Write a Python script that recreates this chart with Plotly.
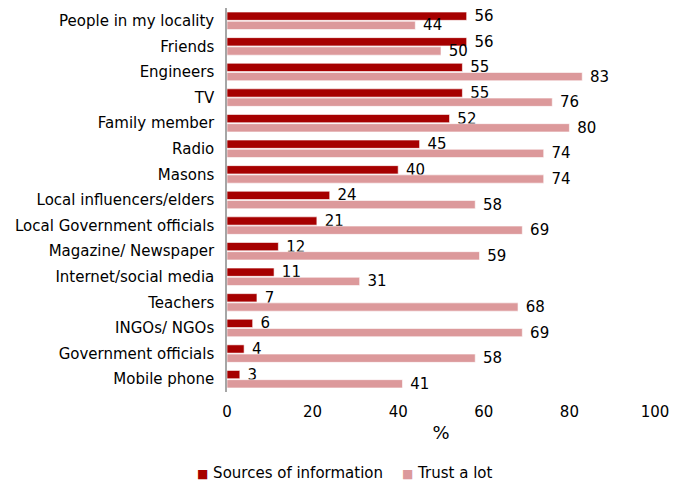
import plotly.graph_objects as go

categories = [
    "People in my locality", "Friends", "Engineers", "TV", "Family member",
    "Radio", "Masons", "Local influencers/elders", "Local Government officials",
    "Magazine/ Newspaper", "Internet/social media", "Teachers", "INGOs/ NGOs",
    "Government officials", "Mobile phone",
]
sources_of_information = [56, 56, 55, 55, 52, 45, 40, 24, 21, 12, 11, 7, 6, 4, 3]
trust_a_lot = [44, 50, 83, 76, 80, 74, 74, 58, 69, 59, 31, 68, 69, 58, 41]
x_ticks = [0, 20, 40, 60, 80, 100]

FONT = "DejaVu Sans"
SIZE = 15
DARK = "#A60000"
PINK = "#DC999B"

fig = go.Figure()
for name, vals, color in [("Sources of information", sources_of_information, DARK),
                          ("Trust a lot", trust_a_lot, PINK)]:
    fig.add_trace(go.Bar(
        name=name, y=categories, x=vals, orientation="h",
        marker=dict(color=color, line=dict(color="white", width=0.6)),
        text=vals, texttemplate=" %{text}", textposition="outside",
        cliponaxis=False, constraintext="none",
        textfont=dict(family=FONT, size=SIZE, color="#000000"),
    ))

# legend drawn as a single centred row below the axis title
legend_items = [("Sources of information", DARK, -0.072), ("Trust a lot", PINK, 0.407)]
for label, color, xpos in legend_items:
    fig.add_annotation(
        xref="paper", yref="paper", x=xpos, y=-0.212, xanchor="left", yanchor="middle",
        text=f'<span style="color:{color};font-size:12px">■</span> {label}',
        showarrow=False, borderpad=0,
        font=dict(family=FONT, size=SIZE, color="#000000"),
    )

fig.update_layout(
    width=681, height=483,
    barmode="group", bargap=0.28, bargroupgap=0.1,
    plot_bgcolor="white", paper_bgcolor="white",
    font=dict(family=FONT, size=SIZE, color="#000000"),
    margin=dict(l=227, r=26, t=8, b=91, autoexpand=False),
    showlegend=False,
)
fig.update_xaxes(
    range=[0, 100], tickvals=x_ticks, showgrid=False, zeroline=False,
    showline=False, ticks="", ticklabelstandoff=9,
    title=dict(text="%", standoff=6),
    tickfont=dict(family=FONT, size=SIZE), automargin=False,
)
fig.update_yaxes(
    autorange="reversed", showgrid=False, showline=True, linecolor="#A6A6A6",
    linewidth=1.5, ticks="", ticklabelstandoff=8, tickfont=dict(family=FONT, size=SIZE),
    automargin=False,
)

fig.write_html("out.html")
